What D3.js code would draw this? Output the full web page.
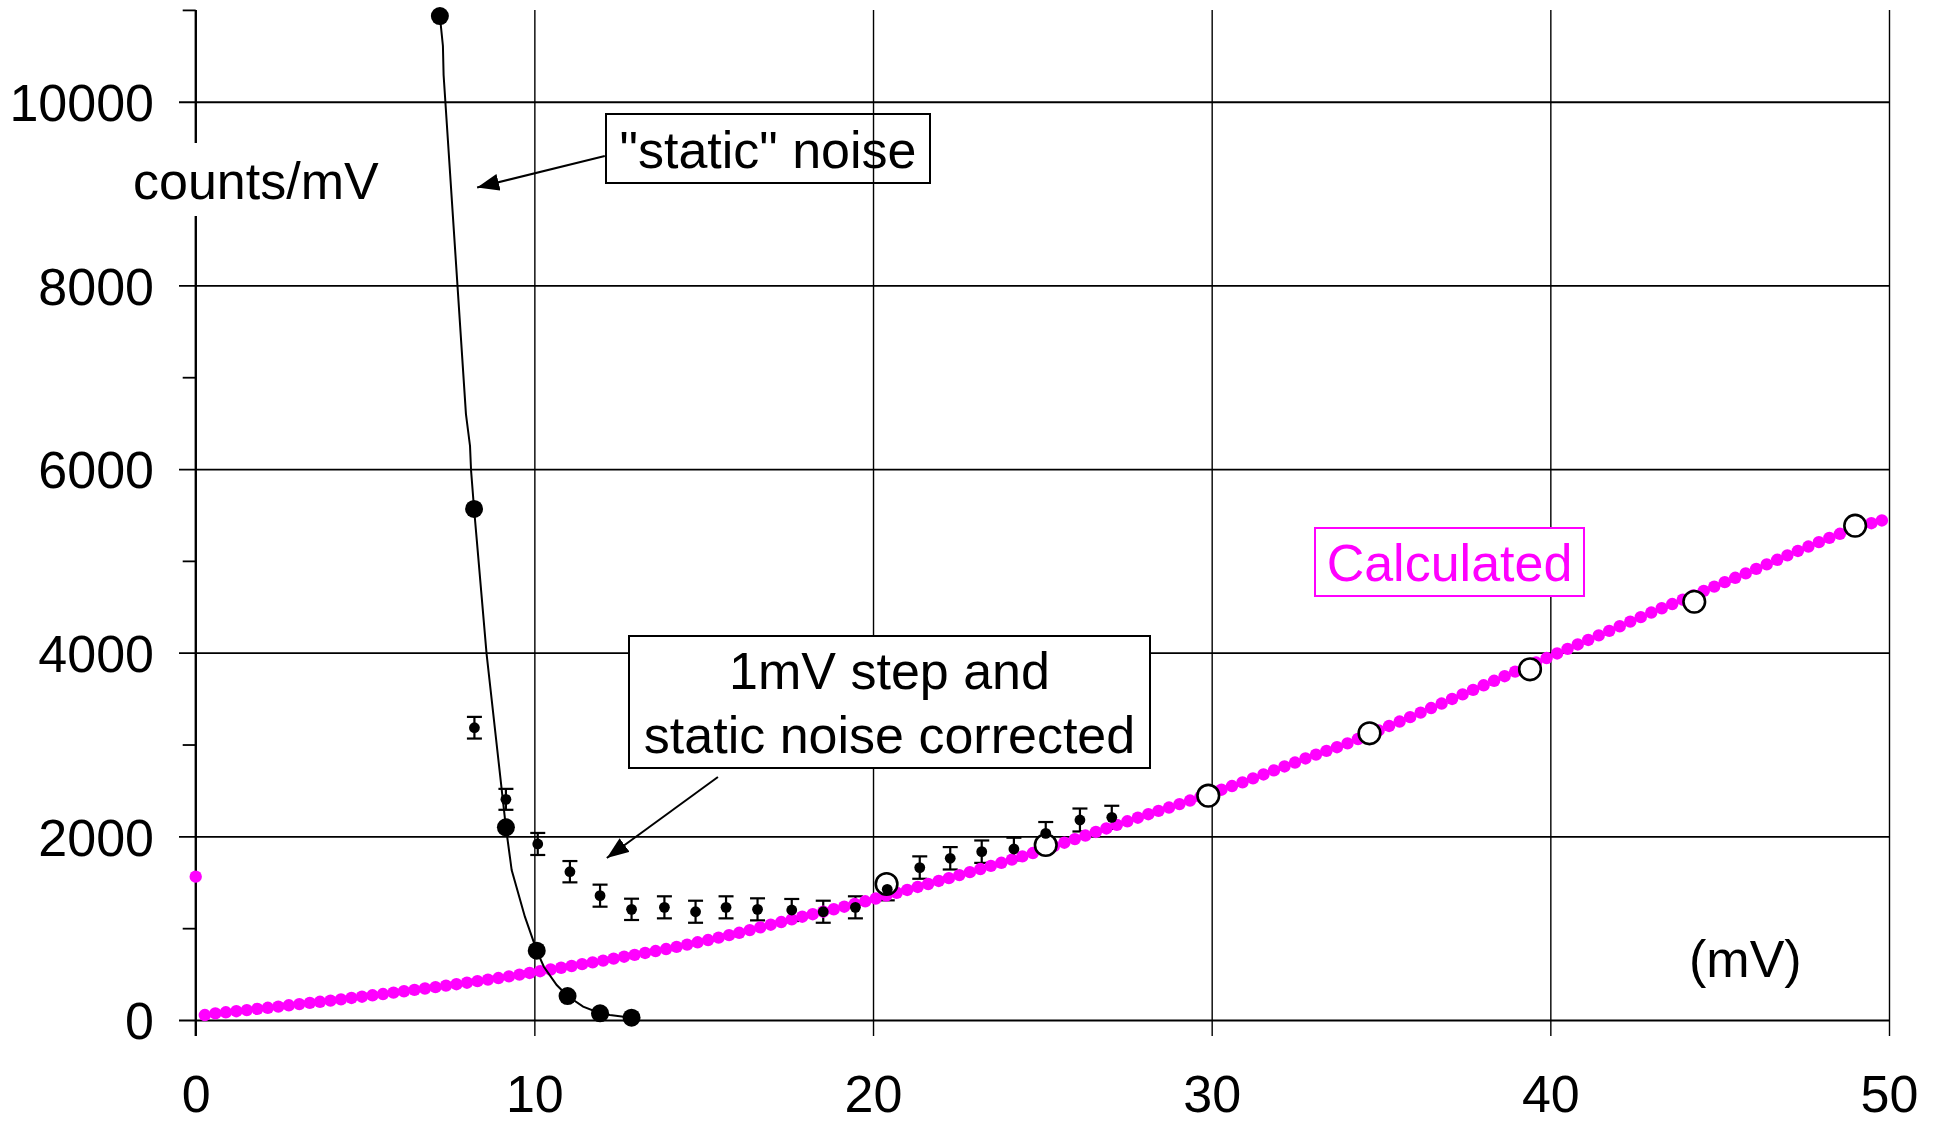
<!DOCTYPE html>
<html>
<head>
<meta charset="utf-8">
<script src="https://cdn.jsdelivr.net/npm/d3@7"></script>
<style>
body { margin: 0; background: #fff; }
text { font-family: "Liberation Sans", Arial, sans-serif; }
</style>
</head>
<body>
<div id="chart"></div>
<script>
var w = 1940
var h = 1123

// axis ticks
var xTicks = [0, 10, 20, 30, 40, 50]
var yTicks = [0, 2000, 4000, 6000, 8000, 10000]
var yMinorTicks = [1000, 3000, 5000, 7000, 9000, 11000]

// "static" noise (thin line + big dots)
var noiseLineMv = [7.21, 7.30, 7.32, 7.98, 8.10, 8.13, 8.22, 8.30, 8.59, 9.16, 9.33, 9.72, 10.07, 10.28, 10.66, 10.98, 11.44, 11.94, 12.23, 12.87]
var noiseLineCounts = [10933, 10607, 10291, 6599, 6251, 5989, 5565, 5226, 3985, 2098, 1633, 1125, 755, 580, 381, 261, 145, 73, 54, 25]
var noiseDotMv = [7.21, 8.22, 9.16, 10.07, 10.98, 11.94, 12.87]
var noiseDotCounts = [10933, 5565, 2098, 755, 261, 73, 25]

// 1mV step and static noise corrected (with error bars)
var corrMv = [8.23, 9.16, 10.10, 11.05, 11.94, 12.87, 13.84, 14.76, 15.66, 16.59, 17.60, 18.53, 19.48, 20.42, 21.38, 22.28, 23.21, 24.16, 25.10, 26.11, 27.05]
var corrCounts = [3183, 2403, 1917, 1615, 1354, 1205, 1227, 1179, 1227, 1205, 1198, 1179, 1227, 1423, 1660, 1761, 1833, 1862, 2033, 2178, 2207]
var corrErr = [118, 114, 120, 116, 120, 116, 120, 120, 120, 120, 120, 120, 120, 120, 122, 122, 122, 123, 123, 125, 126]

// open circles
var openMv = [20.40, 25.10, 29.90, 34.66, 39.40, 44.25, 49.00]
var openCounts = [1481, 1906, 2443, 3122, 3819, 4555, 5383]

// calculated (magenta dots)
var calcMv = [0.27, 0.58, 0.89, 1.20, 1.51, 1.82, 2.13, 2.44, 2.75, 3.06,
  3.37, 3.67, 3.98, 4.29, 4.60, 4.91, 5.22, 5.53, 5.84, 6.15,
  6.46, 6.77, 7.08, 7.39, 7.70, 8.01, 8.32, 8.63, 8.94, 9.25,
  9.56, 9.86, 10.17, 10.48, 10.79, 11.10, 11.41, 11.72, 12.03, 12.34,
  12.65, 12.96, 13.27, 13.58, 13.89, 14.20, 14.51, 14.82, 15.13, 15.44,
  15.75, 16.05, 16.36, 16.67, 16.98, 17.29, 17.60, 17.91, 18.22, 18.53,
  18.84, 19.15, 19.46, 19.77, 20.08, 20.39, 20.70, 21.01, 21.32, 21.63,
  21.94, 22.24, 22.55, 22.86, 23.17, 23.48, 23.79, 24.10, 24.41, 24.72,
  25.03, 25.34, 25.65, 25.96, 26.27, 26.58, 26.89, 27.20, 27.51, 27.82,
  28.13, 28.43, 28.74, 29.05, 29.36, 29.67, 29.98, 30.29, 30.60, 30.91,
  31.22, 31.53, 31.84, 32.15, 32.46, 32.77, 33.08, 33.39, 33.70, 34.01,
  34.32, 34.62, 34.93, 35.24, 35.55, 35.86, 36.17, 36.48, 36.79, 37.10,
  37.41, 37.72, 38.03, 38.34, 38.65, 38.96, 39.27, 39.58, 39.89, 40.20,
  40.51, 40.81, 41.12, 41.43, 41.74, 42.05, 42.36, 42.67, 42.98, 43.29,
  43.60, 43.91, 44.22, 44.53, 44.84, 45.15, 45.46, 45.77, 46.08, 46.39,
  46.70, 47.00, 47.31, 47.62, 47.93, 48.24, 48.55, 48.86, 49.17, 49.48,
  49.79]
var calcCounts = [54, 72, 84, 96, 108, 121, 133, 146, 160, 173,
  186, 198, 211, 225, 240, 254, 269, 283, 298, 313,
  328, 343, 358, 374, 390, 406, 423, 440, 457, 475,
  494, 512, 531, 550, 569, 588, 608, 627, 647, 668,
  689, 709, 730, 751, 773, 796, 821, 846, 871, 897,
  924, 950, 979, 1009, 1038, 1067, 1096, 1125, 1152, 1179,
  1206, 1234, 1264, 1293, 1323, 1354, 1385, 1416, 1449, 1481,
  1514, 1545, 1578, 1610, 1644, 1678, 1712, 1747, 1782, 1818,
  1854, 1893, 1931, 1970, 2009, 2048, 2086, 2125, 2164, 2203,
  2241, 2277, 2314, 2351, 2390, 2429, 2468, 2508, 2548, 2588,
  2631, 2674, 2718, 2761, 2804, 2848, 2890, 2931, 2971, 3012,
  3060, 3106, 3154, 3202, 3250, 3298, 3347, 3397, 3446, 3496,
  3546, 3595, 3645, 3694, 3744, 3794, 3843, 3893, 3942, 3992,
  4042, 4090, 4139, 4189, 4238, 4288, 4338, 4387, 4437, 4484,
  4530, 4577, 4624, 4672, 4720, 4768, 4816, 4864, 4913, 4962,
  5012, 5060, 5108, 5156, 5204, 5250, 5295, 5340, 5380, 5410,
  5440]
var loneMv = [0]
var loneCounts = [1561]

var magenta = "#ff00ff"

var svg = d3.select("#chart").append("svg").attr("width", w).attr("height", h)
svg.append("rect").attr("width", w).attr("height", h).attr("fill", "#fff")

var x = d3.scaleLinear().domain([0, 50]).range([195.7, 1889])
var y = d3.scaleLinear().domain([0, 11000]).range([1020, 9.9])

// horizontal grid + y labels
var yAxis = svg.append("g")
    .attr("transform", "translate(179,0)")
    .call(d3.axisLeft(y).tickValues(yTicks).tickFormat(d3.format("d")).tickSize(-(x(50) - 179)).tickPadding(25))
yAxis.select(".domain").remove()
yAxis.selectAll("line").attr("stroke", "#000").attr("stroke-width", 1.8)
yAxis.selectAll("text")
    .attr("font-size", "52px").attr("fill", "#000").attr("dy", "0.36em")
    .style("font-family", "'Liberation Sans', Arial, sans-serif")

// minor y ticks
var yMinor = svg.append("g")
    .attr("transform", "translate(" + x(0) + ",0)")
    .call(d3.axisLeft(y).tickValues(yMinorTicks).tickSize(13).tickFormat(""))
yMinor.select(".domain").remove()
yMinor.selectAll("line").attr("stroke", "#000").attr("stroke-width", 1.8)

// vertical grid + x labels
var xAxis = svg.append("g")
    .attr("transform", "translate(0,1036)")
    .call(d3.axisBottom(x).tickValues(xTicks).tickSize(-(1036 - y(11000))).tickPadding(39))
xAxis.select(".domain").remove()
xAxis.selectAll("line").attr("stroke", "#000").attr("stroke-width", 1.4)
xAxis.selectAll("text")
    .attr("font-size", "52px").attr("fill", "#000")
    .style("font-family", "'Liberation Sans', Arial, sans-serif")

// y axis line
svg.append("line")
    .attr("x1", x(0)).attr("x2", x(0))
    .attr("y1", y(11000)).attr("y2", 1036)
    .attr("stroke", "#000").attr("stroke-width", 2.2)

// axis titles
svg.append("rect").attr("x", 128).attr("y", 143).attr("width", 257).attr("height", 73).attr("fill", "#fff")
svg.append("text").text("counts/mV").attr("x", 133).attr("y", 199).attr("font-size", "52px")
svg.append("text").text("(mV)").attr("x", 1689).attr("y", 977).attr("font-size", "52px")

// error bars (below the magenta dots)
var corr = corrMv.map(function(d, i) { return {x: d, y: corrCounts[i], e: corrErr[i]} })
var bars = svg.append("g").attr("stroke", "#000").attr("stroke-width", 2.2)
corr.forEach(function(d) {
    bars.append("line").attr("x1", x(d.x)).attr("x2", x(d.x)).attr("y1", y(d.y - d.e)).attr("y2", y(d.y + d.e))
    bars.append("line").attr("x1", x(d.x) - 7.5).attr("x2", x(d.x) + 7.5).attr("y1", y(d.y - d.e)).attr("y2", y(d.y - d.e))
    bars.append("line").attr("x1", x(d.x) - 7.5).attr("x2", x(d.x) + 7.5).attr("y1", y(d.y + d.e)).attr("y2", y(d.y + d.e))
})

// calculated dots
svg.append("g").selectAll("circle")
    .data(calcMv.map(function(d, i) { return [d, calcCounts[i]] }).concat(loneMv.map(function(d, i) { return [d, loneCounts[i]] })))
    .enter().append("circle")
    .attr("cx", function(d) { return x(d[0]) })
    .attr("cy", function(d) { return y(d[1]) })
    .attr("r", 6.2)
    .attr("fill", magenta)

// open circles
svg.append("g").selectAll("circle")
    .data(openMv.map(function(d, i) { return [d, openCounts[i]] }))
    .enter().append("circle")
    .attr("cx", function(d) { return x(d[0]) })
    .attr("cy", function(d) { return y(d[1]) })
    .attr("r", 10.8)
    .attr("fill", "#fff")
    .attr("stroke", "#000")
    .attr("stroke-width", 2.6)

// corrected dots
svg.append("g").selectAll("circle")
    .data(corr)
    .enter().append("circle")
    .attr("cx", function(d) { return x(d.x) })
    .attr("cy", function(d) { return y(d.y) })
    .attr("r", 5.4)
    .attr("fill", "#000")

// static noise line + dots
var line = d3.line().x(function(d) { return x(d[0]) }).y(function(d) { return y(d[1]) })
svg.append("path")
    .attr("d", line(noiseLineMv.map(function(d, i) { return [d, noiseLineCounts[i]] })))
    .attr("fill", "none").attr("stroke", "#000").attr("stroke-width", 2)
svg.append("g").selectAll("circle")
    .data(noiseDotMv.map(function(d, i) { return [d, noiseDotCounts[i]] }))
    .enter().append("circle")
    .attr("cx", function(d) { return x(d[0]) })
    .attr("cy", function(d) { return y(d[1]) })
    .attr("r", 9)
    .attr("fill", "#000")

// arrows
svg.append("defs").append("marker")
    .attr("id", "head")
    .attr("viewBox", "0 0 22 17")
    .attr("refX", 22).attr("refY", 8.5)
    .attr("markerWidth", 22).attr("markerHeight", 17)
    .attr("markerUnits", "userSpaceOnUse")
    .attr("orient", "auto")
    .append("path").attr("d", "M0,0L22,8.5L0,17Z").attr("fill", "#000")

var arrows = [
    [[12.08, 9409], [8.31, 9066]],
    [[15.42, 2646], [12.14, 1764]]
]
arrows.forEach(function(a) {
    svg.append("line")
        .attr("x1", x(a[0][0])).attr("y1", y(a[0][1]))
        .attr("x2", x(a[1][0])).attr("y2", y(a[1][1]))
        .attr("stroke", "#000").attr("stroke-width", 2)
        .attr("marker-end", "url(#head)")
})

// annotation boxes
svg.append("rect").attr("x", 606).attr("y", 114).attr("width", 324).attr("height", 69)
    .attr("fill", "none").attr("stroke", "#000").attr("stroke-width", 2)
svg.append("text").text('"static" noise').attr("x", 768).attr("y", 168)
    .attr("text-anchor", "middle").attr("font-size", "52px")

svg.append("rect").attr("x", 629).attr("y", 636).attr("width", 521).attr("height", 132)
    .attr("fill", "#fff").attr("stroke", "#000").attr("stroke-width", 2)
svg.append("text").text("1mV step and").attr("x", 889.5).attr("y", 689)
    .attr("text-anchor", "middle").attr("font-size", "52px")
svg.append("text").text("static noise corrected").attr("x", 889.5).attr("y", 753)
    .attr("text-anchor", "middle").attr("font-size", "52px")

svg.append("rect").attr("x", 1315).attr("y", 528).attr("width", 269).attr("height", 68)
    .attr("fill", "#fff").attr("stroke", magenta).attr("stroke-width", 2)
svg.append("text").text("Calculated").attr("x", 1449.5).attr("y", 581)
    .attr("text-anchor", "middle").attr("font-size", "52px").attr("fill", magenta)
</script>
</body>
</html>
